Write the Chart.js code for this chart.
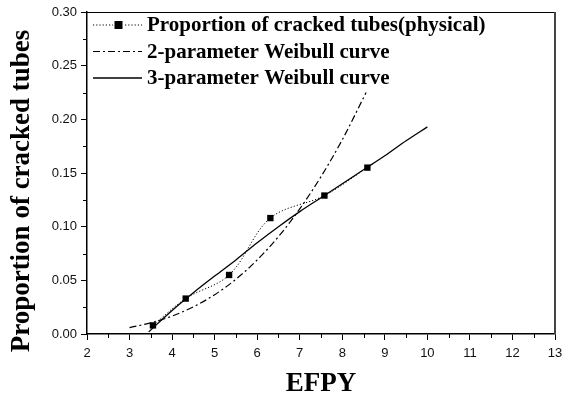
<!DOCTYPE html>
<html>
<head>
<meta charset="utf-8">
<script src="https://cdn.jsdelivr.net/npm/chart.js@4/dist/chart.umd.min.js"></script>
<style>
html,body{margin:0;padding:0;background:#fff;}
canvas{display:block;}
</style>
</head>
<body>
<canvas id="c" width="563" height="398"></canvas>
<script>
// ---- data ----
const efpyPhysical = [3.55, 4.32, 5.34, 6.31, 7.58, 8.59];
const propPhysical = [0.008, 0.033, 0.055, 0.108, 0.129, 0.155];

const weibull2X = [3.0, 3.5, 4.0, 4.5, 5.0, 5.5, 6.0, 6.5, 7.0, 7.5, 8.0, 8.56];
const weibull2Y = [0.006, 0.0104, 0.0167, 0.0253, 0.0366, 0.051, 0.069, 0.0907, 0.1165, 0.1466, 0.181, 0.225];

const weibull3X = [3.45, 4.0, 4.5, 5.0, 5.5, 6.0, 6.5, 7.0, 7.5, 8.0, 8.5, 9.0, 9.5, 10.0];
const weibull3Y = [0.002, 0.022, 0.0385, 0.054, 0.069, 0.085, 0.100, 0.114, 0.127, 0.140, 0.153, 0.166, 0.180, 0.193];

const seriesLabels = [
  'Proportion of cracked tubes(physical)',
  '2-parameter Weibull curve',
  '3-parameter Weibull curve'
];
const xTitle = 'EFPY';
const yTitle = 'Proportion of cracked tubes';

const xMin = 2, xMax = 13, xStep = 1;
const yMin = 0, yMax = 0.30, yStep = 0.05;

const pts = (xs, ys) => xs.map((x, i) => ({x: x, y: ys[i]}));

const extras = {
  id: 'extras',
  afterDraw(chart) {
    const ctx = chart.ctx;
    const a = chart.chartArea;
    const xs = chart.scales.x, ys = chart.scales.y;
    ctx.save();
    // top and right frame
    ctx.strokeStyle = '#000';
    ctx.lineWidth = 1;
    ctx.beginPath();
    ctx.moveTo(a.left, a.top + 0.5);
    ctx.lineTo(a.right, a.top + 0.5);
    ctx.stroke();
    ctx.strokeStyle = '#444';
    ctx.lineWidth = 2;
    ctx.beginPath();
    ctx.moveTo(a.right, a.top);
    ctx.lineTo(a.right, a.bottom);
    ctx.stroke();
    // minor ticks
    ctx.strokeStyle = '#000';
    ctx.lineWidth = 1;
    ctx.beginPath();
    for (let v = xMin + xStep / 2; v < xMax; v += xStep) {
      const px = Math.round(xs.getPixelForValue(v)) + 0.5;
      ctx.moveTo(px, a.bottom);
      ctx.lineTo(px, a.bottom + 4);
    }
    for (let v = yMin + yStep / 2; v < yMax; v += yStep) {
      const py = Math.round(ys.getPixelForValue(v)) + 0.5;
      ctx.moveTo(a.left, py);
      ctx.lineTo(a.left - 4, py);
    }
    ctx.stroke();
    // y axis title
    ctx.fillStyle = '#000';
    ctx.font = 'bold 27px "Liberation Serif"';
    ctx.textAlign = 'center';
    ctx.textBaseline = 'middle';
    ctx.translate(22, 191);
    ctx.rotate(-Math.PI / 2);
    ctx.fillText(yTitle, 0, 0);
    ctx.restore();

    // legend
    ctx.save();
    const ds = chart.data.datasets;
    ds.forEach((d, i) => {
      const ry = 25 + i * 26.5;
      ctx.strokeStyle = '#000';
      ctx.lineWidth = d.borderWidth;
      ctx.setLineDash(d.borderDash || []);
      ctx.beginPath();
      ctx.moveTo(93, ry);
      ctx.lineTo(142, ry);
      ctx.stroke();
      ctx.setLineDash([]);
      if (d.pointRadius > 0) {
        ctx.fillStyle = '#fff';
        ctx.fillRect(113, ry - 6, 12, 12);
        ctx.fillStyle = '#000';
        ctx.fillRect(118.5 - 4, ry - 4, 8, 8);
      }
      ctx.fillStyle = '#000';
      ctx.font = 'bold 21px "Liberation Serif"';
      ctx.textAlign = 'left';
      ctx.textBaseline = 'middle';
      ctx.fillText(d.label, 147, ry + 1);
    });
    ctx.restore();
  }
};

new Chart(document.getElementById('c'), {
  type: 'scatter',
  data: {
    datasets: [
      {
        label: seriesLabels[0],
        data: pts(efpyPhysical, propPhysical),
        showLine: true,
        borderColor: '#000',
        borderWidth: 1,
        borderDash: [1.2, 2],
        tension: 0.35,
        pointStyle: 'rect',
        pointRadius: 4.5,
        pointBackgroundColor: '#000',
        pointBorderColor: '#000',
        pointBorderWidth: 0
      },
      {
        label: seriesLabels[1],
        data: pts(weibull2X, weibull2Y),
        showLine: true,
        borderColor: '#000',
        borderWidth: 1.2,
        borderDash: [7, 3, 2, 3],
        cubicInterpolationMode: 'monotone',
        pointRadius: 0
      },
      {
        label: seriesLabels[2],
        data: pts(weibull3X, weibull3Y),
        showLine: true,
        borderColor: '#000',
        borderWidth: 1.3,
        cubicInterpolationMode: 'monotone',
        pointRadius: 0
      }
    ]
  },
  options: {
    responsive: false,
    animation: false,
    events: [],
    layout: {padding: {left: 0, top: 12, right: 8, bottom: 0}},
    plugins: {legend: {display: false}, tooltip: {enabled: false}},
    scales: {
      x: {
        type: 'linear',
        min: xMin, max: xMax,
        afterFit(s) { s.height = 64; s.paddingLeft = 0; s.paddingRight = 0; },
        ticks: {
          stepSize: xStep,
          color: '#111',
          font: {family: '"Liberation Sans"', size: 13},
          padding: 6,
          maxRotation: 0
        },
        grid: {drawOnChartArea: false, tickLength: 6, color: '#000', tickWidth: 1},
        border: {color: '#000', width: 1.5},
        title: {
          display: true,
          text: xTitle,
          color: '#000',
          font: {family: '"Liberation Serif"', size: 27, weight: 'bold', lineHeight: 1},
          padding: {top: 0, bottom: 0}
        }
      },
      y: {
        type: 'linear',
        min: yMin, max: yMax,
        afterFit(s) { s.width = 87; s.paddingTop = 0; s.paddingBottom = 0; },
        ticks: {
          stepSize: yStep,
          color: '#111',
          font: {family: '"Liberation Sans"', size: 13},
          padding: 4,
          callback: v => Number(v).toFixed(2)
        },
        grid: {drawOnChartArea: false, tickLength: 6, color: '#000', tickWidth: 1},
        border: {color: '#000', width: 1.5}
      }
    }
  },
  plugins: [extras]
});
</script>
</body>
</html>
